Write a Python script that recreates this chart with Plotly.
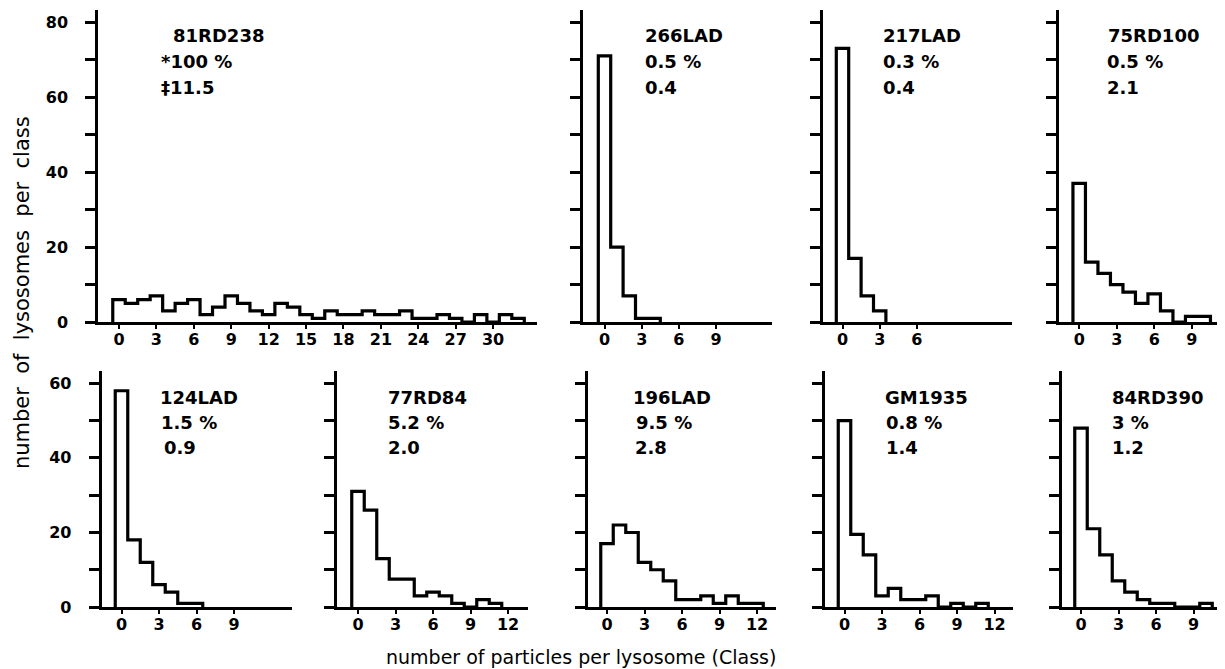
import plotly.graph_objects as go

# ---------------- data ----------------
names = ["81RD238", "266LAD", "217LAD", "75RD100",
         "124LAD", "77RD84", "196LAD", "GM1935", "84RD390"]
pct_text = ["*100 %", "0.5 %", "0.3 %", "0.5 %",
            "1.5 %", "5.2 %", "9.5 %", "0.8 %", "3 %"]
mean_text = ["‡11.5", "0.4", "0.4", "2.1",
             "0.9", "2.0", "2.8", "1.4", "1.2"]

c_81RD238 = [6, 5, 6, 7, 3, 5, 6, 2, 4, 7, 5, 3, 2, 5, 4, 2, 1, 3, 2, 2, 3, 2, 2, 3,
             1, 1, 2, 1, 0, 2, 0, 2, 1]
c_266LAD = [71, 20, 7, 1, 1]
c_217LAD = [73, 17, 7, 3]
c_75RD100 = [37, 16, 13, 10, 8, 5, 7.5, 3, 0, 1.5, 1.5]
c_124LAD = [58, 18, 12, 6, 4, 1, 1]
c_77RD84 = [31, 26, 13, 7.5, 7.5, 3, 4, 3, 1, 0, 2, 1]
c_196LAD = [17, 22, 20, 12, 10, 7, 2, 2, 3, 1, 3, 1, 1]
c_GM1935 = [50, 19.5, 14, 3, 5, 2, 2, 3, 0, 1, 0, 1]
c_84RD390 = [48, 21, 14, 7, 4, 2, 1, 1, 0, 0, 1]
series = [c_81RD238, c_266LAD, c_217LAD, c_75RD100,
          c_124LAD, c_77RD84, c_196LAD, c_GM1935, c_84RD390]

xticks = [list(range(0, 31, 3)), [0, 3, 6, 9], [0, 3, 6], [0, 3, 6, 9],
          [0, 3, 6, 9], [0, 3, 6, 9, 12], [0, 3, 6, 9, 12], [0, 3, 6, 9, 12], [0, 3, 6, 9]]
yticks_top = list(range(0, 81, 10))
yticks_bot = list(range(0, 61, 10))

# ---------------- layout geometry (screen pixels of the reference) ----------------
OFF = 8          # default margin of the html body
KY = 0.985       # observed vertical scale of the captured page
W = 1225 - 2 * OFF
H = 663


def px_x(p):
    return (p - OFF) / W


def px_y(p):
    return 1 - (p / KY - OFF) / H


# (y-axis x-pixel, pixel of class 0, pixels per class, axis end pixel, row)
geom = [(98.3, 119.0, 12.47, 537, 0), (583, 604.5, 12.4, 772, 0),
        (822.7, 842.5, 12.4, 1012, 0), (1059, 1079.2, 12.5, 1225, 0),
        (101.7, 121.5, 12.5, 292, 1), (337, 358, 12.5, 528, 1),
        (587.7, 607, 12.5, 776, 1), (825, 844.5, 12.5, 1013, 1),
        (1062, 1081, 12.5, 1225, 1)]
rows = [dict(base=322, top=10, ppu=3.75), dict(base=607, top=371, ppu=3.73)]
# text positions: (x of name, x of pct, x of mean)
text_x = [(173, 161, 161), (645, 645, 645), (883, 883, 883), (1108, 1107, 1107),
          (160, 161, 164), (388, 388, 388), (633, 636, 635), (885, 886, 886),
          (1112, 1112, 1112)]
text_y = [(35, 61, 87), (397, 422, 447)]
PAD = 2

FONT = "DejaVu Sans"
fig = go.Figure()
annotations = []

for i, counts in enumerate(series):
    yax_px, zero_px, ppu, xend_px, r = geom[i]
    row = rows[r]
    n = len(counts)
    xs = [-0.5] + [k - 0.5 for k in range(n)] + [n - 0.5]
    ys = [0] + list(counts) + [0]
    sfx = "" if i == 0 else str(i + 1)
    fig.add_trace(go.Scatter(x=xs, y=ys, mode="lines", line_shape="hv",
                             line=dict(color="black", width=3.2),
                             xaxis="x" + sfx, yaxis="y" + sfx,
                             showlegend=False, hoverinfo="skip"))
    xr = [(yax_px - zero_px) / ppu, (xend_px - zero_px) / ppu]
    yr = [0, (row["base"] - row["top"]) / row["ppu"]]
    first_col = i in (0, 4)
    yt = yticks_top if r == 0 else yticks_bot
    ytext = [(str(v) if (first_col and v % 20 == 0) else "") for v in yt]
    dom_end = px_x(xend_px)
    if dom_end > 1.0:
        xr[1] = xr[0] + (xr[1] - xr[0]) * (1.0 - px_x(yax_px)) / (dom_end - px_x(yax_px))
        dom_end = 1.0
    fig.layout["xaxis" + sfx] = dict(
        domain=[px_x(yax_px), dom_end], range=xr, anchor="y" + sfx,
        showline=True, linewidth=3, linecolor="black", showgrid=False, zeroline=False,
        ticks="outside", ticklen=4, tickwidth=2, tickcolor="black", ticklabelstandoff=-3,
        tickvals=xticks[i], ticktext=[str(v) for v in xticks[i]],
        tickfont=dict(family=FONT, size=16, color="black", weight="bold"), fixedrange=True)
    fig.layout["yaxis" + sfx] = dict(
        domain=[px_y(row["base"]), px_y(row["top"])], range=yr, anchor="x" + sfx,
        showline=True, linewidth=3, linecolor="black", showgrid=False, zeroline=False,
        ticks="outside", ticklen=10, tickwidth=3, tickcolor="black",
        tickvals=yt, ticktext=ytext, ticklabelstandoff=14,
        tickfont=dict(family=FONT, size=16, color="black", weight="bold"), fixedrange=True)
    tx = text_x[i]
    ty = text_y[r]
    for txt, x_px, y_px in zip((names[i], pct_text[i], mean_text[i]), tx, ty):
        annotations.append(dict(text=txt, x=px_x(x_px - PAD), y=px_y(y_px), xref="paper",
                                yref="paper", xanchor="left", yanchor="middle", showarrow=False,
                                font=dict(family=FONT, size=18, color="black", weight="bold")))

sp = "\u00a0 "
annotations.append(dict(text=sp.join("number of lysosomes per class".split()),
                        x=px_x(22), y=px_y(293), xref="paper", yref="paper",
                        xanchor="center", yanchor="middle", textangle=-90, showarrow=False,
                        font=dict(family=FONT, size=21, color="black")))
annotations.append(dict(text="number of particles per lysosome (Class)",
                        x=px_x(581), y=px_y(657), xref="paper", yref="paper",
                        xanchor="center", yanchor="middle", showarrow=False,
                        font=dict(family=FONT, size=19, color="black")))

fig.update_layout(width=W, height=H, margin=dict(l=0, r=0, t=0, b=0),
                  paper_bgcolor="white", plot_bgcolor="white",
                  annotations=annotations, showlegend=False)

fig.write_html("out.html")
